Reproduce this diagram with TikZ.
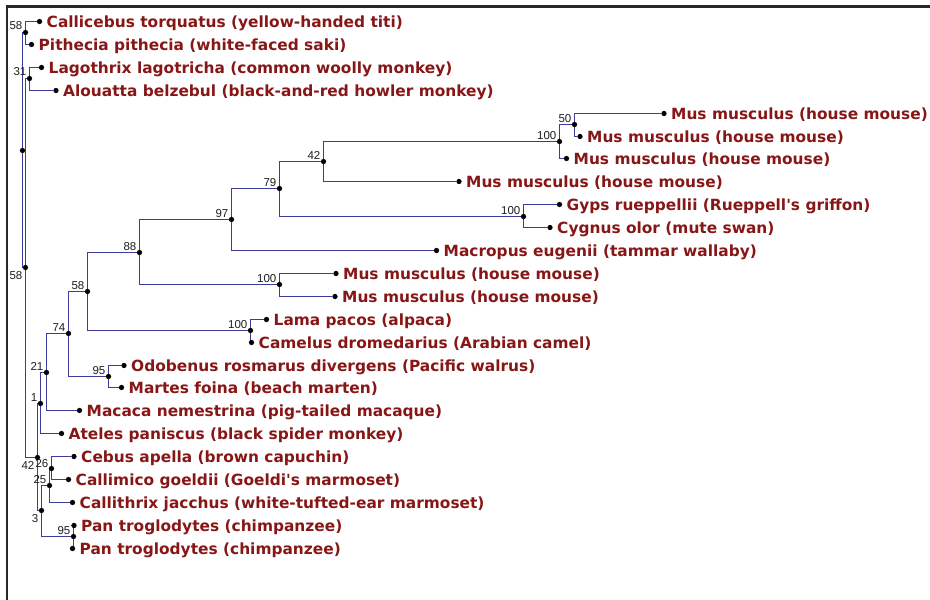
\documentclass[tikz,border=0pt]{standalone}
\usepackage{fontspec}
\newfontfamily\leaffont{DejaVu Sans}
\newfontfamily\supfont{Liberation Sans}
\definecolor{branchc}{RGB}{60,60,155}
\definecolor{leafc}{RGB}{135,22,22}
\definecolor{framec}{RGB}{40,40,40}
\definecolor{supc}{RGB}{30,30,30}
\pgfdeclarelayer{bg}
\pgfsetlayers{bg,main}
\tikzset{
  dot/.style={circle, fill=black, inner sep=0pt, minimum size=5.3pt},
  leaflabel/.style={anchor=base west, inner sep=0pt, text=leafc, font=\leaffont\bfseries\fontsize{15.4}{16}\selectfont},
  suplabel/.style={anchor=base east, inner sep=0pt, text=supc, font=\supfont\fontsize{11.5}{12}\selectfont},
  branch/.style={draw=branchc, line width=1.5pt},
  framel/.style={draw=framec, line width=2.2pt},
}
% leaf: name, x, y, text
\newcommand\leafnode[4]{%
  \node[dot] (#1) at (#2,#3) {};
  \path (#1) ++(7,6.3) node[leaflabel] (#1t) {#4};
}
% internal node: name, x, y, label, label dy
\newcommand\treenode[5]{%
  \node[dot] (#1) at (#2,#3) {};
  \path (#1) ++(-3,#5) node[suplabel] (#1s) {#4};
}
\begin{document}
\begin{tikzpicture}[x=1pt,y=-1pt]
\useasboundingbox (0,0) rectangle (930,600);
\draw[framel] (7.2,600) -- (7.2,6.5) -- (930,6.5);

\leafnode{L1}{39.5}{21.5}{Callicebus torquatus (yellow-handed titi)}
\leafnode{L2}{31.5}{44.5}{Pithecia pithecia (white-faced saki)}
\leafnode{L3}{41.5}{67.5}{Lagothrix lagotricha (common woolly monkey)}
\leafnode{L4}{56}{90.5}{Alouatta belzebul (black-and-red howler monkey)}
\leafnode{L5}{664}{113.5}{Mus musculus (house mouse)}
\leafnode{L6}{580}{136.5}{Mus musculus (house mouse)}
\leafnode{L7}{566.5}{158.5}{Mus musculus (house mouse)}
\leafnode{L8}{459}{181.5}{Mus musculus (house mouse)}
\leafnode{L9}{559.5}{204.5}{Gyps rueppellii (Rueppell's griffon)}
\leafnode{L10}{550}{227.5}{Cygnus olor (mute swan)}
\leafnode{L11}{436.5}{250.5}{Macropus eugenii (tammar wallaby)}
\leafnode{L12}{336}{273.5}{Mus musculus (house mouse)}
\leafnode{L13}{335}{296.5}{Mus musculus (house mouse)}
\leafnode{L14}{266.5}{319.5}{Lama pacos (alpaca)}
\leafnode{L15}{251.5}{342.5}{Camelus dromedarius (Arabian camel)}
\leafnode{L16}{124}{365.5}{Odobenus rosmarus divergens (Pacific walrus)}
\leafnode{L17}{121.5}{387.5}{Martes foina (beach marten)}
\leafnode{L18}{79.5}{410.5}{Macaca nemestrina (pig-tailed macaque)}
\leafnode{L19}{61.5}{433.5}{Ateles paniscus (black spider monkey)}
\leafnode{L20}{74}{456.5}{Cebus apella (brown capuchin)}
\leafnode{L21}{68.5}{479.5}{Callimico goeldii (Goeldi's marmoset)}
\leafnode{L22}{72.5}{502.5}{Callithrix jacchus (white-tufted-ear marmoset)}
\leafnode{L23}{74}{525.5}{Pan troglodytes (chimpanzee)}
\leafnode{L24}{72.5}{548.5}{Pan troglodytes (chimpanzee)}

\treenode{n50}{574.5}{124.5}{50}{-2.5}
\treenode{n100a}{559.5}{141.5}{100}{-2.5}
\treenode{n42b}{323.5}{161.5}{42}{-2.5}
\treenode{n100g}{523.5}{216.5}{100}{-2.5}
\treenode{n79}{279.5}{188.5}{79}{-2.5}
\treenode{n97}{231.5}{219.5}{97}{-2.5}
\treenode{n100e}{279.5}{284.5}{100}{-2.5}
\treenode{n88}{139.5}{252.5}{88}{-2.5}
\treenode{n100l}{250.5}{330.5}{100}{-2.5}
\treenode{n58c}{87.5}{291.5}{58}{-2.5}
\treenode{n95w}{108.5}{376.5}{95}{-2.5}
\treenode{n74}{68.5}{333.5}{74}{-2.5}
\treenode{n21}{46.5}{372.5}{21}{-2.5}
\treenode{n1}{40.5}{403.5}{1}{-2.5}
\treenode{n26}{51.5}{468.5}{26}{-1.5}
\treenode{n25}{49.5}{485.5}{25}{-2}
\treenode{n95p}{73.5}{536.5}{95}{-2.5}
\treenode{n3}{41.5}{510.5}{3}{11.5}
\treenode{n42}{37.5}{457.5}{42}{11.5}
\treenode{n31}{29.5}{78.5}{31}{-3}
\treenode{n58b}{25.5}{267.5}{58}{11.5}
\treenode{n58a}{25.5}{32.5}{58}{-3}
\node[dot] (root) at (22.5,150.5) {};

\begin{pgfonlayer}{bg}
\draw[branch]
  (root) |- (n58a) (root) |- (n58b)
  (n58a) |- (L1) (n58a) |- (L2)
  (n58b) |- (n31) (n58b) |- (n42)
  (n31) |- (L3) (n31) |- (L4)
  (n42) |- (n1) (n42) |- (n3)
  (n1) |- (n21) (n1) |- (L19)
  (n21) |- (n74) (n21) |- (L18)
  (n74) |- (n58c) (n74) |- (n95w)
  (n95w) |- (L16) (n95w) |- (L17)
  (n58c) |- (n88) (n58c) |- (n100l)
  (n100l) |- (L14) (n100l) |- (L15)
  (n88) |- (n97) (n88) |- (n100e)
  (n100e) |- (L12) (n100e) |- (L13)
  (n97) |- (n79) (n97) |- (L11)
  (n79) |- (n42b) (n79) |- (n100g)
  (n100g) |- (L9) (n100g) |- (L10)
  (n42b) |- (n100a) (n42b) |- (L8)
  (n100a) |- (n50) (n100a) |- (L7)
  (n50) |- (L5) (n50) |- (L6)
  (n3) |- (n25) (n3) |- (n95p)
  (n25) |- (n26) (n25) |- (L22)
  (n26) |- (L20) (n26) |- (L21)
  (n95p) |- (L23) (n95p) |- (L24);
\end{pgfonlayer}
\end{tikzpicture}
\end{document}
